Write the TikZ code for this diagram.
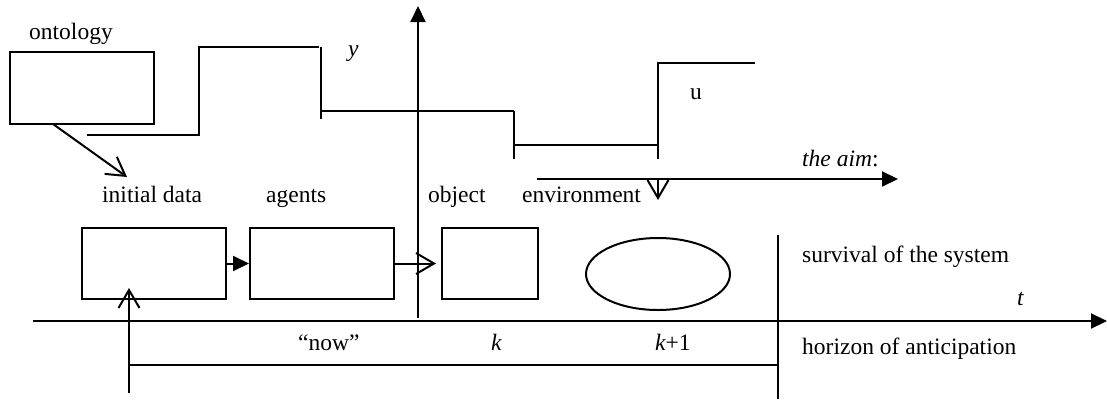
\documentclass[tikz,border=0pt]{standalone}
\usepackage{fontspec}
\setmainfont{Liberation Serif}
\usetikzlibrary{arrows.meta,shapes.geometric}
\begin{document}
\begin{tikzpicture}[x=1pt,y=-1pt,
  ln/.style={line width=2pt},
  lbl/.style={anchor=base west,inner sep=0pt,font=\fontsize{23.5}{26}\selectfont},
  boxn/.style={draw,line width=2pt,inner sep=0pt},
  filled/.style={-{Triangle[length=16pt,width=15pt]}},
  openv/.style={-{Straight Barb[length=18pt,width=21pt,line width=2pt]}}
]
\useasboundingbox (0,0) rectangle (1107,400);
% boxes
\node[boxn,minimum width=144pt,minimum height=72pt] (onto) at (82,88) {};
\node[boxn,minimum width=144pt,minimum height=71pt] (init) at (154,263.5) {};
\node[boxn,minimum width=144pt,minimum height=71pt] (agents) at (322,263.5) {};
\node[boxn,minimum width=96pt,minimum height=71pt] (obj) at (490,263.5) {};
\node[boxn,ellipse,minimum width=144pt,minimum height=72pt] (env) at (658,274) {};
% labels
\node[lbl] (tonto) at (29,39) {ontology};
\node[lbl] (ty) at (348,56) {\itshape y};
\node[lbl] (tu) at (690,99) {u};
\node[lbl] (tinit) at (102,202) {initial data};
\node[lbl] (tag) at (266,202) {agents};
\node[lbl] (tobj) at (428,202) {object};
\node[lbl] (tenv) at (522,202) {environment};
\node[lbl] (taim) at (802,166) {\itshape the aim\upshape :};
\node[lbl] (tsurv) at (802,262) {survival of the system};
\node[lbl] (thor) at (802,354) {horizon of anticipation};
\node[lbl] (tt) at (1017,305) {\itshape t};
\node[lbl] (tnow) at (298,350) {“now”};
\node[lbl] (tk) at (491,350) {\itshape k};
\node[lbl] (tk1) at (655,350) {\itshape k\upshape +1};
% coordinates
\coordinate (o1) at (53,124);
\coordinate (o2) at (127,177);
\coordinate (ya) at (418,318);
\coordinate (yb) at (418,6);
\coordinate (ta) at (33,321);
\coordinate (tb) at (1107,321);
\coordinate (aa) at (537,179);
\coordinate (ab) at (898,179);
\coordinate (da) at (658,179);
\coordinate (db) at (658,200);
\coordinate (ua) at (129,393);
\coordinate (ub) at (129,288);
\coordinate (ha) at (129,365);
\coordinate (hb) at (778,365);
\coordinate (va) at (778,235);
\coordinate (vb) at (778,399);
% step curve
\draw[ln] (87,135) -- (199,135) -- (199,47) -- (319,47);
\draw[ln] (321,47) -- (321,119);
\draw[ln] (321,111) -- (514,111);
\draw[ln] (514,111) -- (514,159);
\draw[ln] (514,145) -- (658,145);
\draw[ln] (658,159) -- (658,63) -- (755,63);
% arrows
\draw[ln,openv] (o1) -- (o2);
\draw[ln,filled] (ya) -- (yb);
\draw[ln,filled] (ta) -- (tb);
\draw[ln,filled] (aa) -- (ab);
\draw[ln,openv] (da) -- (db);
\draw[ln,filled] (init.east) -- (agents.west);
\draw[ln,openv] (agents.east) -- ([xshift=-5pt]obj.west);
\draw[ln,openv] (ua) -- (ub);
\draw[ln] (ha) -- (hb);
\draw[ln] (va) -- (vb);
\end{tikzpicture}
\end{document}
